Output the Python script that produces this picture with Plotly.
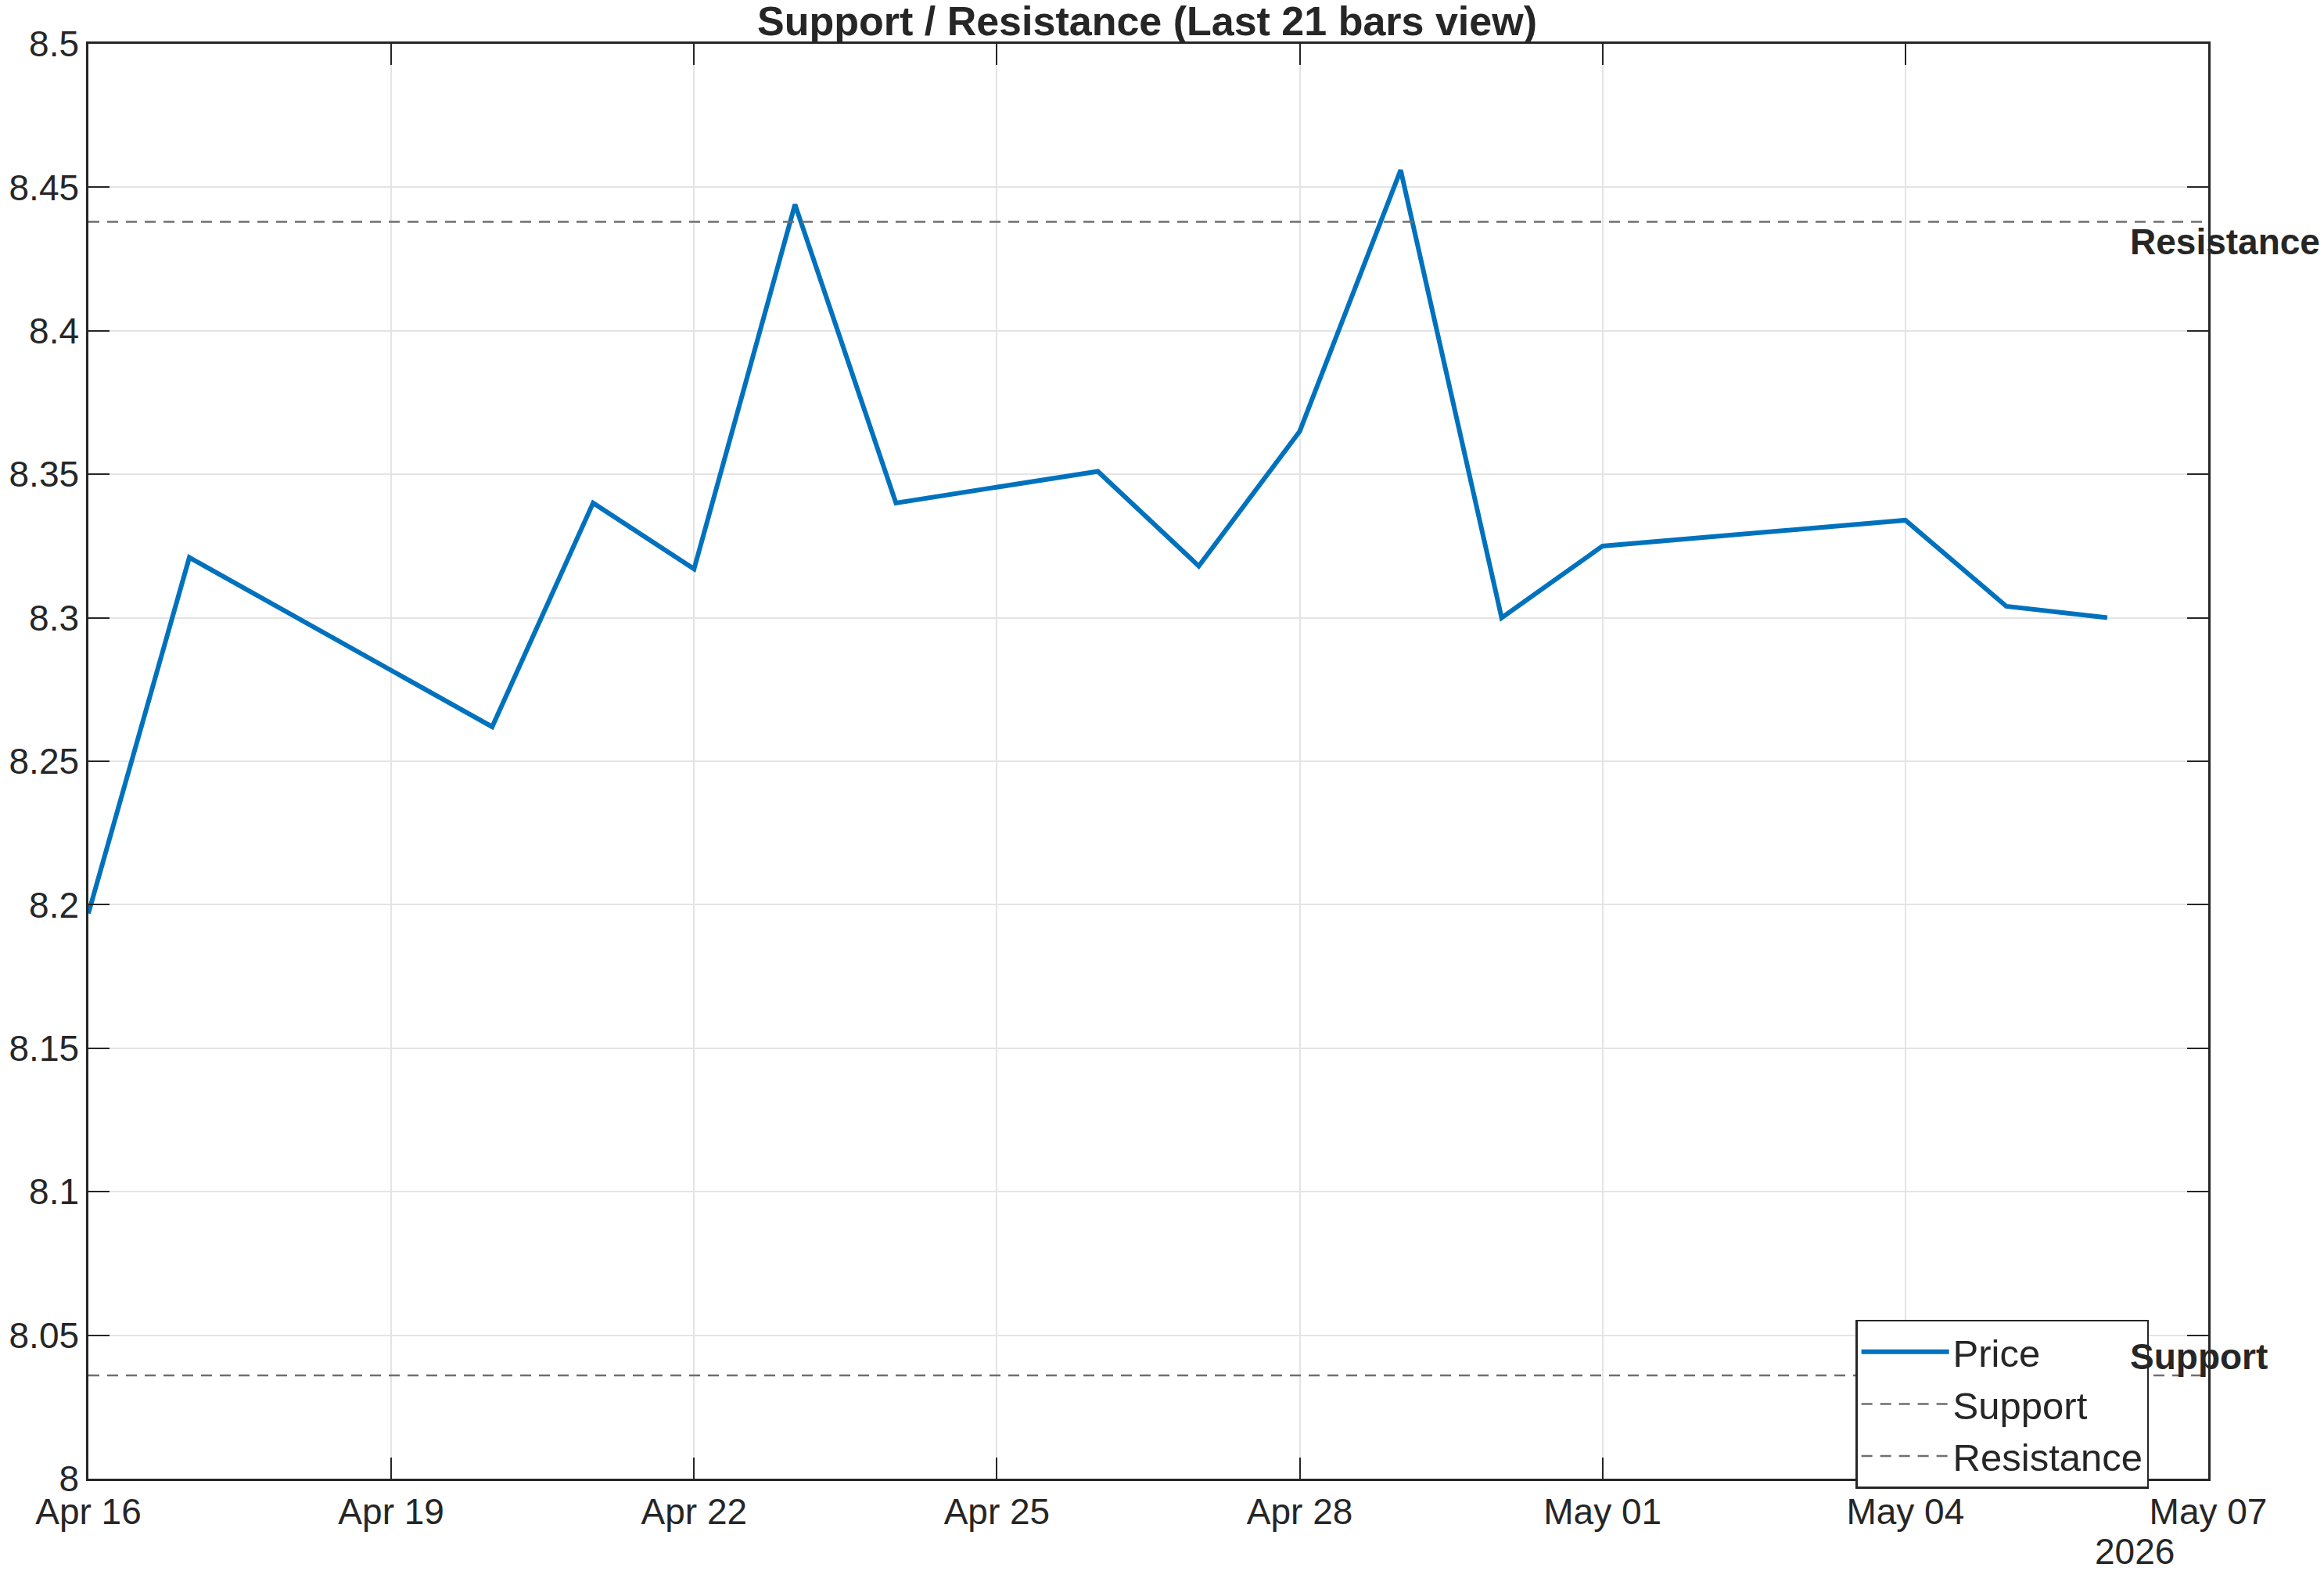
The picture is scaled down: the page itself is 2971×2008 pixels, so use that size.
import plotly.graph_objects as go

dates = ["2026-04-16", "2026-04-17", "2026-04-20", "2026-04-21", "2026-04-22", "2026-04-23",
         "2026-04-24", "2026-04-26", "2026-04-27", "2026-04-28", "2026-04-29", "2026-04-30",
         "2026-05-01", "2026-05-04", "2026-05-05", "2026-05-06"]
price = [8.197, 8.321, 8.262, 8.340, 8.317, 8.444,
         8.340, 8.351, 8.318, 8.365, 8.456, 8.300,
         8.325, 8.334, 8.304, 8.300]
support_level = 8.036
resistance_level = 8.438

x_range = ["2026-04-16", "2026-05-07"]
x_tickvals = ["2026-04-16", "2026-04-19", "2026-04-22", "2026-04-25", "2026-04-28",
              "2026-05-01", "2026-05-04", "2026-05-07"]
x_ticktext = ["Apr 16", "Apr 19", "Apr 22", "Apr 25", "Apr 28", "May 01", "May 04", "May 07"]
y_tickvals = [8.0, 8.05, 8.1, 8.15, 8.2, 8.25, 8.3, 8.35, 8.4, 8.45, 8.5]
y_ticktext = ["8", "8.05", "8.1", "8.15", "8.2", "8.25", "8.3", "8.35", "8.4", "8.45", "8.5"]

FONT = "Liberation Sans, Arial, sans-serif"
TXT = "#262626"
DASHC = "#6f6f6f"

fig = go.Figure()
fig.add_trace(go.Scatter(x=dates, y=price, mode="lines", name="Price",
                         line=dict(color="#0072BD", width=6)))
fig.add_trace(go.Scatter(x=x_range, y=[support_level, support_level], mode="lines", name="Support",
                         line=dict(color=DASHC, width=2.5, dash="14px,10px")))
fig.add_trace(go.Scatter(x=x_range, y=[resistance_level, resistance_level], mode="lines", name="Resistance",
                         line=dict(color=DASHC, width=2.5, dash="14px,10px")))

axis_common = dict(showline=True, linecolor=TXT, linewidth=2.5, mirror="ticks",
                   ticks="inside", ticklen=27, tickwidth=2, tickcolor=TXT,
                   showgrid=True, gridcolor="#e4e4e4", gridwidth=2, zeroline=False,
                   tickfont=dict(family=FONT, size=46, color=TXT))

fig.update_xaxes(type="date", range=x_range, tickmode="array", tickvals=x_tickvals,
                 ticktext=x_ticktext, **axis_common)
fig.update_yaxes(range=[8.0, 8.5], tickmode="array", tickvals=y_tickvals,
                 ticktext=y_ticktext, **axis_common)

fig.update_layout(
    width=2971, height=2008,
    margin=dict(l=110, r=148, t=56, b=118),
    paper_bgcolor="white", plot_bgcolor="white",
    title=dict(text="<b>Support / Resistance (Last 21 bars view)</b>",
               x=(110 + 2823) / 2 / 2971, xanchor="center",
               y=1 - 27 / 2008, yanchor="middle",
               font=dict(family=FONT, size=52, color=TXT)),
    showlegend=True,
    legend=dict(x=0.972, xanchor="right", y=-0.007, yanchor="bottom",
                bgcolor="white", bordercolor=TXT, borderwidth=2.5,
                font=dict(family=FONT, size=49, color=TXT),
                itemwidth=112, tracegroupgap=0),
    annotations=[
        dict(text="<b>Resistance</b>", xref="paper", x=0.9624, xanchor="left",
             yref="y", y=resistance_level, yanchor="top", yshift=2, showarrow=False,
             font=dict(family=FONT, size=46, color=TXT)),
        dict(text="<b>Support</b>", xref="paper", x=0.9624, xanchor="left",
             yref="y", y=support_level, yanchor="bottom", yshift=-4, showarrow=False,
             font=dict(family=FONT, size=46, color=TXT)),
        dict(text="2026", xref="paper", x=(2729 - 110) / 2713, xanchor="center",
             yref="paper", y=-(1983 - 1890) / 1834, yanchor="middle", showarrow=False,
             font=dict(family=FONT, size=46, color=TXT)),
    ],
)

fig.write_html("out.html")
